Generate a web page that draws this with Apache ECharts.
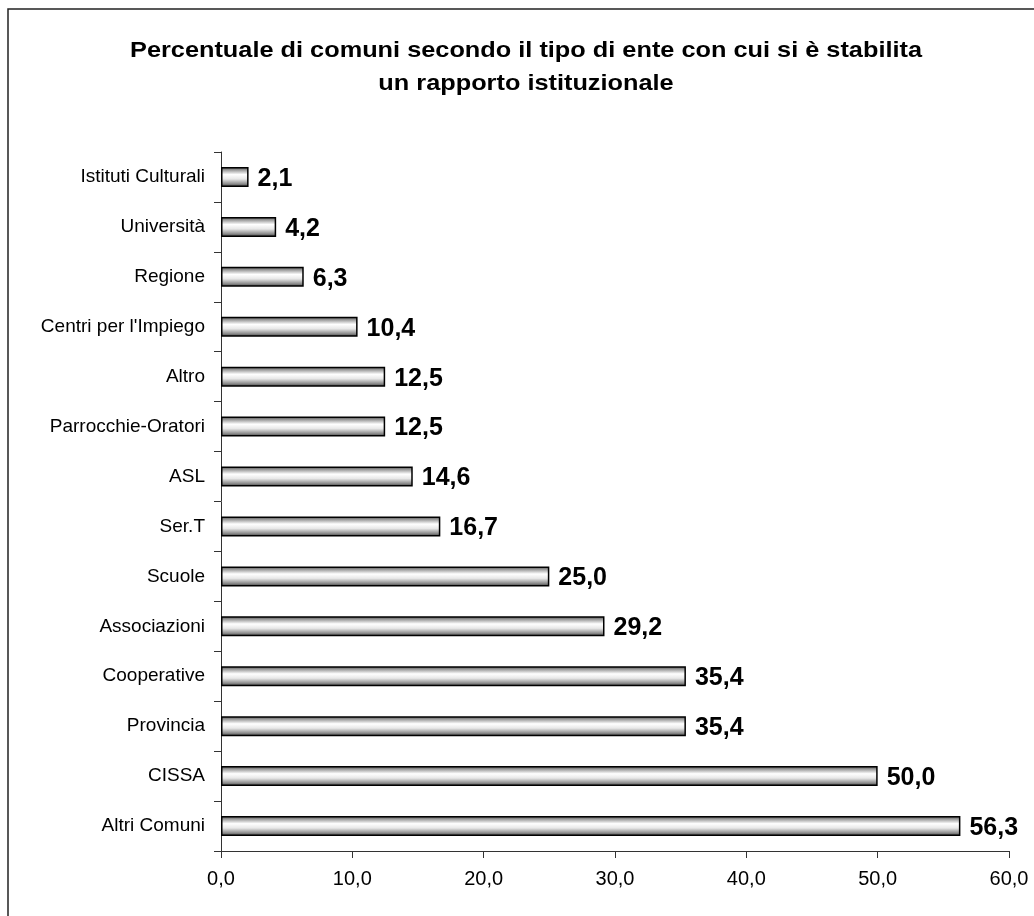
<!DOCTYPE html>
<html><head><meta charset="utf-8">
<script src="https://cdn.jsdelivr.net/npm/echarts@6/dist/echarts.min.js"></script>
<style>html,body{margin:0;padding:0;background:#fff}#c{width:1034px;height:916px}</style>
</head><body><div id="c"></div>
<script>
const categories = ["Istituti Culturali","Università","Regione","Centri per l'Impiego","Altro","Parrocchie-Oratori","ASL","Ser.T","Scuole","Associazioni","Cooperative","Provincia","CISSA","Altri Comuni"];
const values = [2.1,4.2,6.3,10.4,12.5,12.5,14.6,16.7,25.0,29.2,35.4,35.4,50.0,56.3];
const titleLines = ["Percentuale di comuni secondo il tipo di ente con cui si è stabilita","un rapporto istituzionale"];

const FONT = '"Liberation Sans", Arial, sans-serif';
const titleFont = 'bold 22px ' + FONT;
const fmt = v => v.toFixed(1).replace('.', ',');
const mctx = document.createElement('canvas').getContext('2d');
mctx.font = titleFont;
const titleScale = 792 / mctx.measureText(titleLines[0]).width;

const chart = echarts.init(document.getElementById('c'), null, {renderer:'canvas'});
const grad = new echarts.graphic.LinearGradient(0,0,0,1,[
  {offset:0,color:'#4a4a4a'},{offset:0.15,color:'#9a9a9a'},{offset:0.38,color:'#ffffff'},
  {offset:0.6,color:'#e8e8e8'},{offset:0.85,color:'#8a8a8a'},{offset:1,color:'#3a3a3a'}]);
chart.setOption({
  animation:false,
  backgroundColor:'#fff',
  graphic:[
    {type:'rect',shape:{x:8,y:9,width:1100,height:1000},style:{fill:'none',stroke:'#222',lineWidth:1.5},z:-1},
    {type:'text',x:526,y:51,scaleX:titleScale,style:{text:titleLines[0],x:0,y:0,font:titleFont,fill:'#000',align:'center',verticalAlign:'middle'}},
    {type:'text',x:526,y:84,scaleX:titleScale,style:{text:titleLines[1],x:0,y:0,font:titleFont,fill:'#000',align:'center',verticalAlign:'middle'}}
  ],
  grid:{left:221,right:25,top:152,bottom:65,containLabel:false},
  xAxis:{type:'value',min:0,max:60,interval:10,
    axisLine:{show:true,lineStyle:{color:'#333',width:1}},
    axisTick:{show:true,length:7,lineStyle:{color:'#333'}},
    splitLine:{show:false},
    axisLabel:{formatter:v=>fmt(v),fontFamily:FONT,fontSize:20,color:'#000',margin:18}},
  yAxis:{type:'category',data:categories,inverse:true,
    axisLine:{show:true,lineStyle:{color:'#333',width:1}},
    axisTick:{show:true,length:7,lineStyle:{color:'#333'}},
    axisLabel:{fontFamily:FONT,fontSize:19,color:'#000',margin:16}},
  series:[{type:'bar',data:values,barWidth:20,
    itemStyle:{color:grad,borderColor:'#000',borderWidth:1.5},
    label:{show:true,position:'right',distance:9,formatter:p=>fmt(p.value),
      fontFamily:FONT,fontWeight:'bold',fontSize:25,color:'#000',offset:[0,2]}}]
});
</script></body></html>
